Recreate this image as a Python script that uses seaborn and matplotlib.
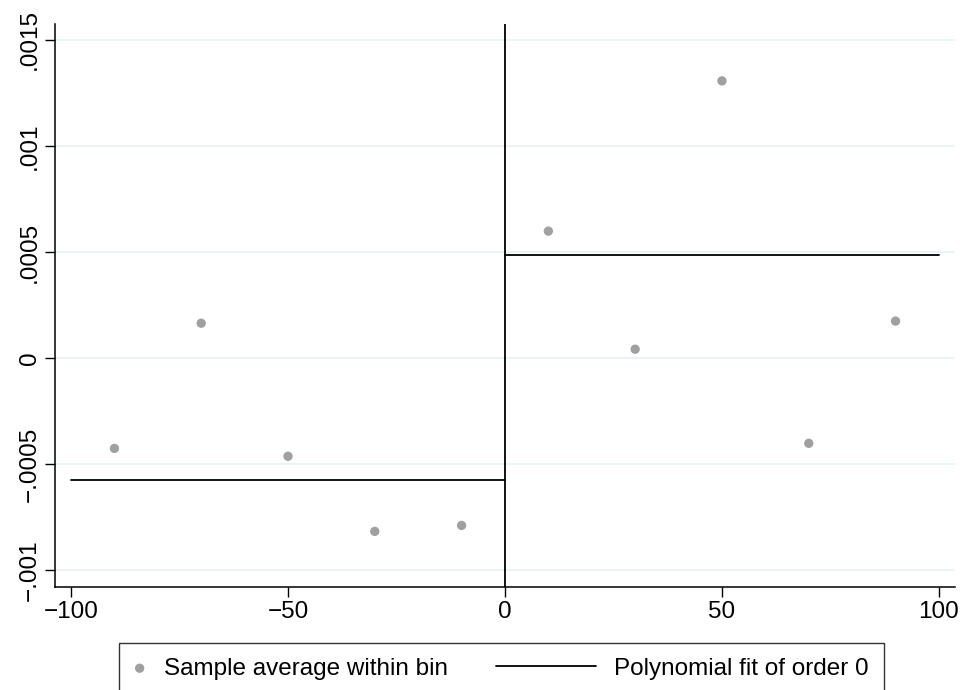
import numpy as np
import pandas as pd
import matplotlib
matplotlib.use('Agg')
import matplotlib.pyplot as plt
from matplotlib.legend_handler import HandlerLine2D
import seaborn as sns

sns.set_style('white')
plt.rcParams['font.family'] = ['Liberation Sans', 'DejaVu Sans']
plt.rcParams['text.color'] = 'black'
plt.rcParams['xtick.color'] = 'black'
plt.rcParams['ytick.color'] = 'black'

# bin midpoints and sample averages
bin_x = [-90, -70, -50, -30, -10, 10, 30, 50, 70, 90]
bin_avg = [-0.000425, 0.000165, -0.000462, -0.000816, -0.000788,
           0.000599, 0.0000425, 0.001307, -0.000401, 0.000175]

# polynomial fit of order 0 on each side of cutoff
fit_left = -0.000575
fit_right = 0.000486

x_ticks = [-100, -50, 0, 50, 100]
x_ticklabels = ['\u2212100', '\u221250', '0', '50', '100']
y_ticks = [-0.001, -0.0005, 0, 0.0005, 0.001, 0.0015]
y_ticklabels = ['\u2212.001', '\u2212.0005', '0', '.0005', '.001', '.0015']

df = pd.DataFrame({'x': bin_x, 'y': bin_avg})
fit_df = pd.DataFrame({
    'x': [-100, 0, 0, 100],
    'y': [fit_left, fit_left, fit_right, fit_right],
    'side': ['left', 'left', 'right', 'right'],
})

FS = 17.5


class LongLineHandler(HandlerLine2D):
    # line key that reaches back to the left of its (short) handle box
    def get_xdata(self, legend, xdescent, ydescent, width, height, fontsize):
        right = -xdescent + width
        x = np.array([right - 72, right])
        return x, x


fig = plt.figure(figsize=(9.66, 6.9), dpi=100)
ax = fig.add_axes([0.0569, 0.1493, 0.9317, 0.8159])

for yt in y_ticks:
    ax.axhline(yt, color='#eaf2f3', lw=1.3, zorder=0)

sns.scatterplot(data=df, x='x', y='y', ax=ax, color='#a0a0a0', s=45,
                edgecolor='none', zorder=3, label='Sample average within bin')
for i, (side, g) in enumerate(fit_df.groupby('side')):
    sns.lineplot(data=g, x='x', y='y', ax=ax, color='black', lw=1.3,
                 label='Polynomial fit of order 0' if i == 0 else None,
                 legend=False, zorder=2)
ax.axvline(0, color='black', lw=1.3, zorder=2)

ax.set_xlim(-103.7, 103.7)
ax.set_ylim(-0.001078, 0.001575)
ax.set_xticks(x_ticks)
ax.set_xticklabels(x_ticklabels, fontsize=FS)
ax.set_yticks(y_ticks)
ax.set_yticklabels(y_ticklabels, fontsize=FS, rotation=90, va='center')
ax.set_xlabel('')
ax.set_ylabel('')
ax.tick_params(axis='both', direction='out', length=7, width=1, color='black',
               labelcolor='black', bottom=True, left=True, pad=3)

for s in ['top', 'right']:
    ax.spines[s].set_visible(False)
for s in ['left', 'bottom']:
    ax.spines[s].set_color('black')
    ax.spines[s].set_linewidth(1.1)

handles, labels = ax.get_legend_handles_labels()
if ax.get_legend():
    ax.get_legend().remove()
leg = fig.legend(handles, labels, loc='upper left',
                 bbox_to_anchor=(119 / 966, (690 - 643) / 690),
                 borderaxespad=0, ncol=2, fontsize=FS, frameon=True,
                 fancybox=False, edgecolor='black', handlelength=0.5,
                 handletextpad=0.75, columnspacing=5.6, borderpad=0.6,
                 markerscale=1.0,
                 handler_map={handles[1]: LongLineHandler()})
leg.get_frame().set_linewidth(1.0)
for t in leg.get_texts():
    t.set_color('black')

fig.savefig('out.png', dpi=100)
